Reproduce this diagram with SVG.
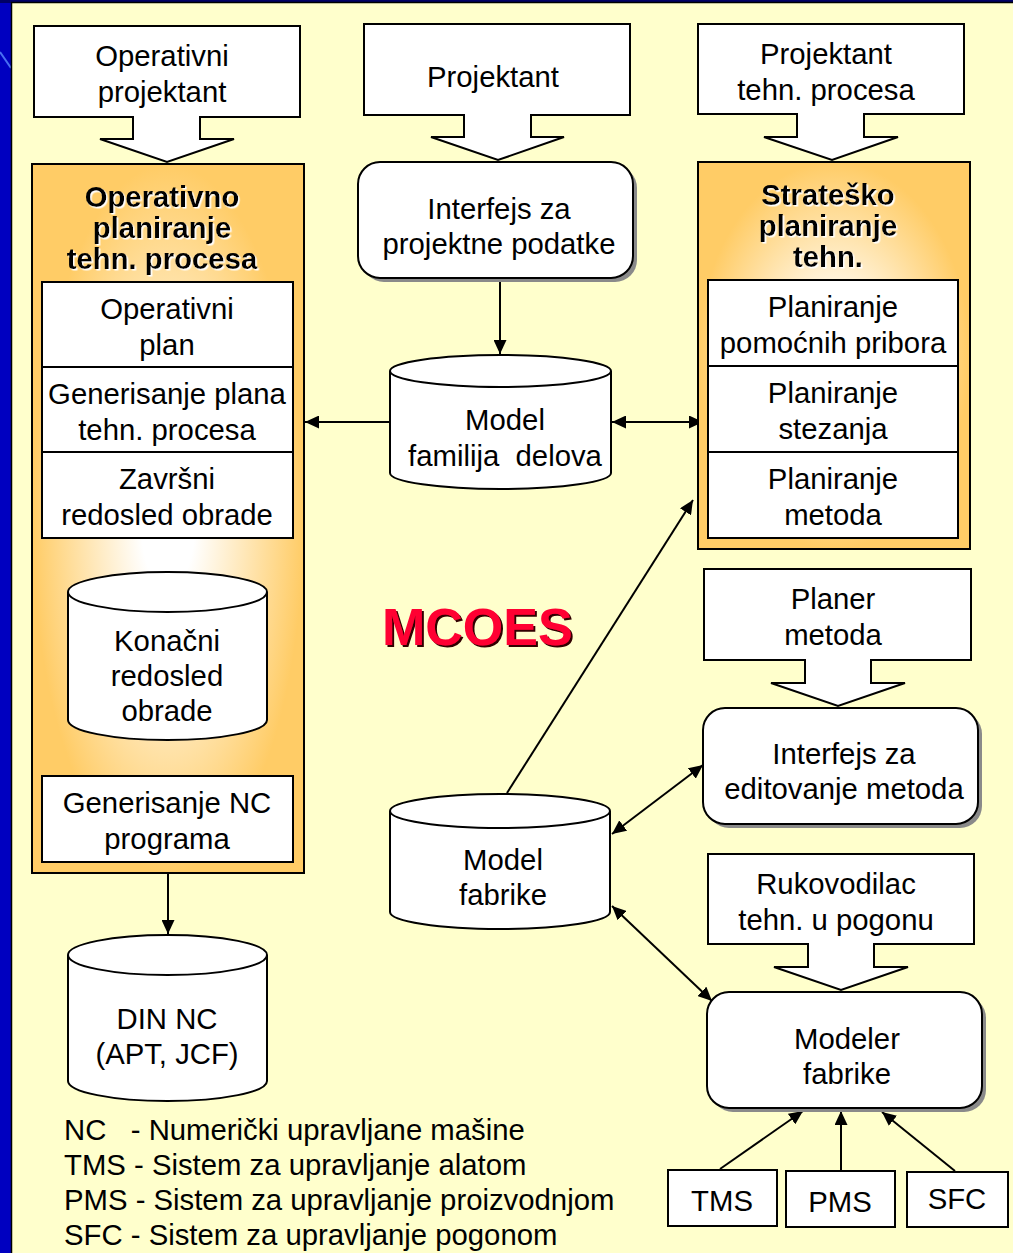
<svg xmlns="http://www.w3.org/2000/svg" width="1013" height="1253" viewBox="0 0 1013 1253">
  <defs>
    <radialGradient id="panelFill" cx="0.5" cy="0.5" r="0.5">
      <stop offset="0" stop-color="#FFFFFF"/>
      <stop offset="0.2" stop-color="#FFFFFF"/>
      <stop offset="1" stop-color="#FFCC66"/>
    </radialGradient>
    <filter id="glow" x="-5%" y="-20%" width="110%" height="140%">
      <feDropShadow dx="1.5" dy="1.5" stdDeviation="0" flood-color="#FFFFFF" flood-opacity="1"/>
    </filter>
    <filter id="dark" x="-5%" y="-20%" width="110%" height="140%">
      <feDropShadow dx="2" dy="2" stdDeviation="0" flood-color="#330000" flood-opacity="1"/>
    </filter>
    <marker id="head" viewBox="0 0 14 13" refX="14" refY="6.5" markerWidth="14" markerHeight="13" markerUnits="userSpaceOnUse" orient="auto-start-reverse">
      <path d="M0,0 L14,6.5 L0,13 Z" fill="#000"/>
    </marker>
    <style>
      text { font-family: "Liberation Sans", Arial, sans-serif; font-size: 29.3px; fill: #000; text-anchor: middle; }
      .title { font-weight: bold; filter: url(#glow); }
      .legend { text-anchor: start; }
      .box { fill: #FFFFFF; stroke: #000; stroke-width: 2; }
      .panel { fill: url(#panelFill); stroke: #000; stroke-width: 2; }
      .shadow { fill: #8A8A8A; }
      .wire { stroke: #000; stroke-width: 2; fill: none; }
      .logo { font-size: 52px; font-weight: bold; fill: #FF0033; text-anchor: start; filter: url(#dark); }
    </style>
  </defs>

  <!-- slide frame -->
  <rect x="0" y="0" width="1013" height="1253" fill="#0000C0"/>
  <rect x="0" y="0" width="1013" height="3" fill="#000066"/>
  <line x1="0" y1="52" x2="11" y2="68" stroke="#5A8CFF" stroke-width="2" opacity="0.8"/>
  <rect x="12" y="3" width="1001" height="1250" fill="#FFFFCC"/>
  <path d="M11.5,1253 V2.5 H1013" fill="none" stroke="#000" stroke-width="1.5"/>

  <!-- connectors -->
  <g id="connectors">
    <line class="wire" x1="166" y1="538" x2="166" y2="572" marker-end="url(#head)"/>
    <line class="wire" x1="170" y1="740" x2="170" y2="776" marker-end="url(#head)"/>
    <line class="wire" x1="168" y1="873" x2="168" y2="934" marker-end="url(#head)"/>
    <line class="wire" x1="500" y1="278" x2="500" y2="354" marker-end="url(#head)"/>
    <line class="wire" x1="390" y1="422" x2="305" y2="422" marker-end="url(#head)"/>
    <line class="wire" x1="612" y1="422" x2="703" y2="422" marker-start="url(#head)" marker-end="url(#head)"/>
    <line class="wire" x1="507" y1="793" x2="693" y2="500" marker-end="url(#head)"/>
    <line class="wire" x1="612" y1="834" x2="703" y2="765" marker-start="url(#head)" marker-end="url(#head)"/>
    <line class="wire" x1="612" y1="906" x2="712" y2="1001" marker-start="url(#head)" marker-end="url(#head)"/>
    <line class="wire" x1="720" y1="1169" x2="803" y2="1111" marker-end="url(#head)"/>
    <line class="wire" x1="841" y1="1170" x2="841" y2="1111" marker-end="url(#head)"/>
    <line class="wire" x1="955" y1="1171" x2="882" y2="1112" marker-end="url(#head)"/>
  </g>

  <!-- role callouts -->
  <g id="operativni-projektant">
    <path class="box" d="M34,26 H300 V117 H200 V139 H234 L167,162 L100,139 H133 V117 H34 Z"/>
    <text x="162" y="66">Operativni</text>
    <text x="162" y="102">projektant</text>
  </g>
  <g id="projektant">
    <path class="box" d="M364,24 H630 V115 H531 V137 H564 L498,160 L431,137 H464 V115 H364 Z"/>
    <text x="493" y="87">Projektant</text>
  </g>
  <g id="projektant-tehn">
    <path class="box" d="M698,24 H964 V114 H864 V137 H898 L832,160 L764,137 H797 V114 H698 Z"/>
    <text x="826" y="64">Projektant</text>
    <text x="826" y="100">tehn. procesa</text>
  </g>
  <g id="planer-metoda">
    <path class="box" d="M704,569 H971 V660 H871 V683 H905 L838,706 L771,683 H805 V660 H704 Z"/>
    <text x="833" y="609">Planer</text>
    <text x="833" y="645">metoda</text>
  </g>
  <g id="rukovodilac">
    <path class="box" d="M708,854 H974 V944 H874 V967 H908 L841,990 L774,967 H808 V944 H708 Z"/>
    <text x="836" y="894">Rukovodilac</text>
    <text x="836" y="930">tehn. u pogonu</text>
  </g>

  <!-- operational planning panel -->
  <g id="operativno-planiranje">
    <rect class="panel" x="32" y="164" width="272" height="709"/>
    <text class="title" x="162" y="207">Operativno</text>
    <text class="title" x="162" y="238">planiranje</text>
    <text class="title" x="162" y="269">tehn. procesa</text>
  </g>
  <g id="operativni-plan">
    <rect class="box" x="42" y="282" width="251" height="85"/>
    <text x="167" y="319">Operativni</text>
    <text x="167" y="355">plan</text>
  </g>
  <g id="generisanje-plana">
    <rect class="box" x="42" y="367" width="251" height="85"/>
    <text x="167" y="404">Generisanje plana</text>
    <text x="167" y="440">tehn. procesa</text>
  </g>
  <g id="zavrsni-redosled">
    <rect class="box" x="42" y="452" width="251" height="86"/>
    <text x="167" y="489">Završni</text>
    <text x="167" y="525">redosled obrade</text>
  </g>
  <g id="konacni-redosled">
    <path class="box" d="M68,592 V720 A99.5,20 0 0 0 267,720 V592"/>
    <ellipse class="box" cx="167.5" cy="592" rx="99.5" ry="20"/>
    <text x="167" y="651">Konačni</text>
    <text x="167" y="686">redosled</text>
    <text x="167" y="721">obrade</text>
  </g>
  <g id="generisanje-nc">
    <rect class="box" x="42" y="776" width="251" height="86"/>
    <text x="167" y="813">Generisanje NC</text>
    <text x="167" y="849">programa</text>
  </g>
  <g id="din-nc">
    <path class="box" d="M68,955 V1081 A99.5,20 0 0 0 267,1081 V955"/>
    <ellipse class="box" cx="167.5" cy="955" rx="99.5" ry="20"/>
    <text x="167" y="1029">DIN NC</text>
    <text x="167" y="1064">(APT, JCF)</text>
  </g>

  <!-- central column -->
  <g id="interfejs-projektni">
    <rect class="shadow" x="362" y="166" width="275" height="116" rx="22"/>
    <rect class="box" x="358" y="162" width="275" height="116" rx="22"/>
    <text x="499" y="219">Interfejs za</text>
    <text x="499" y="254">projektne podatke</text>
  </g>
  <g id="model-familija">
    <path class="box" d="M390,371 V473 A110.5,16 0 0 0 611,473 V371"/>
    <ellipse class="box" cx="500.5" cy="371" rx="110.5" ry="16"/>
    <text x="505" y="430">Model</text>
    <text x="505" y="466" xml:space="preserve">familija  delova</text>
  </g>
  <g id="mcoes">
    <text class="logo" x="382" y="645">MCOES</text>
  </g>
  <g id="model-fabrike">
    <path class="box" d="M390,811 V912 A110,17 0 0 0 610,912 V811"/>
    <ellipse class="box" cx="500" cy="811" rx="110" ry="17"/>
    <text x="503" y="870">Model</text>
    <text x="503" y="905">fabrike</text>
  </g>

  <!-- strategic planning panel -->
  <g id="strateško-planiranje">
    <rect class="panel" x="698" y="162" width="272" height="387"/>
    <text class="title" x="828" y="205">Strateško</text>
    <text class="title" x="828" y="236">planiranje</text>
    <text class="title" x="828" y="267">tehn.</text>
  </g>
  <g id="planiranje-pribora">
    <rect class="box" x="708" y="280" width="250" height="86"/>
    <text x="833" y="317">Planiranje</text>
    <text x="833" y="353">pomoćnih pribora</text>
  </g>
  <g id="planiranje-stezanja">
    <rect class="box" x="708" y="366" width="250" height="86"/>
    <text x="833" y="403">Planiranje</text>
    <text x="833" y="439">stezanja</text>
  </g>
  <g id="planiranje-metoda">
    <rect class="box" x="708" y="452" width="250" height="86"/>
    <text x="833" y="489">Planiranje</text>
    <text x="833" y="525">metoda</text>
  </g>

  <!-- right lower column -->
  <g id="interfejs-editovanje">
    <rect class="shadow" x="707" y="712" width="275" height="116" rx="22"/>
    <rect class="box" x="703" y="708" width="275" height="116" rx="22"/>
    <text x="844" y="764">Interfejs za</text>
    <text x="844" y="799">editovanje metoda</text>
  </g>
  <g id="modeler-fabrike">
    <rect class="shadow" x="711" y="996" width="275" height="116" rx="22"/>
    <rect class="box" x="707" y="992" width="275" height="116" rx="22"/>
    <text x="847" y="1049">Modeler</text>
    <text x="847" y="1084">fabrike</text>
  </g>
  <g id="tms">
    <rect class="box" x="668" y="1170" width="109" height="56"/>
    <text x="722" y="1211">TMS</text>
  </g>
  <g id="pms">
    <rect class="box" x="786" y="1171" width="109" height="56"/>
    <text x="840" y="1212">PMS</text>
  </g>
  <g id="sfc">
    <rect class="box" x="907" y="1172" width="101" height="55"/>
    <text x="957" y="1209">SFC</text>
  </g>

  <!-- abbreviations -->
  <g id="legend">
    <text class="legend" x="64" y="1140" xml:space="preserve">NC   - Numerički upravljane mašine</text>
    <text class="legend" x="64" y="1175">TMS - Sistem za upravljanje alatom</text>
    <text class="legend" x="64" y="1210">PMS - Sistem za upravljanje proizvodnjom</text>
    <text class="legend" x="64" y="1245">SFC - Sistem za upravljanje pogonom</text>
  </g>
</svg>
